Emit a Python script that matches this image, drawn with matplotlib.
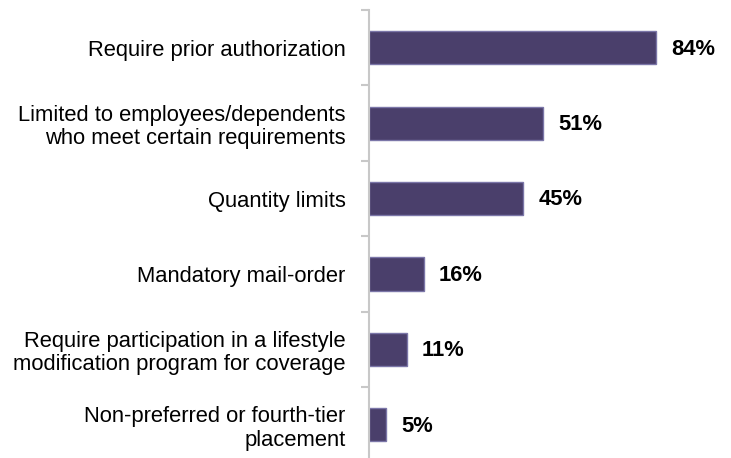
import numpy as np
import matplotlib
matplotlib.use("Agg")
import matplotlib.pyplot as plt

# data
categories = [
    "Require prior authorization",
    "Limited to employees/dependents\nwho meet certain requirements",
    "Quantity limits",
    "Mandatory mail-order",
    "Require participation in a lifestyle\nmodification program for coverage",
    "Non-preferred or fourth-tier\nplacement",
]
values = [84, 51, 45, 16, 11, 5]
value_labels = ["84%", "51%", "45%", "16%", "11%", "5%"]

plt.rcParams['font.family'] = ['Liberation Sans', 'DejaVu Sans']

fig = plt.figure(figsize=(7.31, 4.58), dpi=100)
ax = fig.add_axes([369 / 731, -4.5 / 458, 342 / 731, 452.5 / 458])

y = np.arange(len(categories))
ax.barh(y, values, height=0.44, color='#4a3f6b', edgecolor='#7b76a8', linewidth=1)

for yi, v, lab in zip(y, values, value_labels):
    ax.annotate(lab, (v, yi), xytext=(11, -1), textcoords='offset points',
                ha='left', va='center', fontsize=15.8, fontweight='bold')

ax.set_xlim(0, 100)
ax.set_ylim(len(categories) - 0.5, -0.5)

ax.set_yticks(y)
ax.set_yticklabels(categories, fontsize=15.8, ha='right', linespacing=1.15)
ax.tick_params(axis='y', which='major', length=0, pad=17)
ax.set_yticks(np.arange(-0.5, len(categories), 1.0), minor=True)
ax.tick_params(axis='y', which='minor', length=6, width=1.5, color='#c8c8c8')
ax.set_xticks([])

for s in ['top', 'right', 'bottom']:
    ax.spines[s].set_visible(False)
ax.spines['left'].set_color('#c8c8c8')
ax.spines['left'].set_linewidth(1.5)

fig.savefig('out.png', dpi=100)
